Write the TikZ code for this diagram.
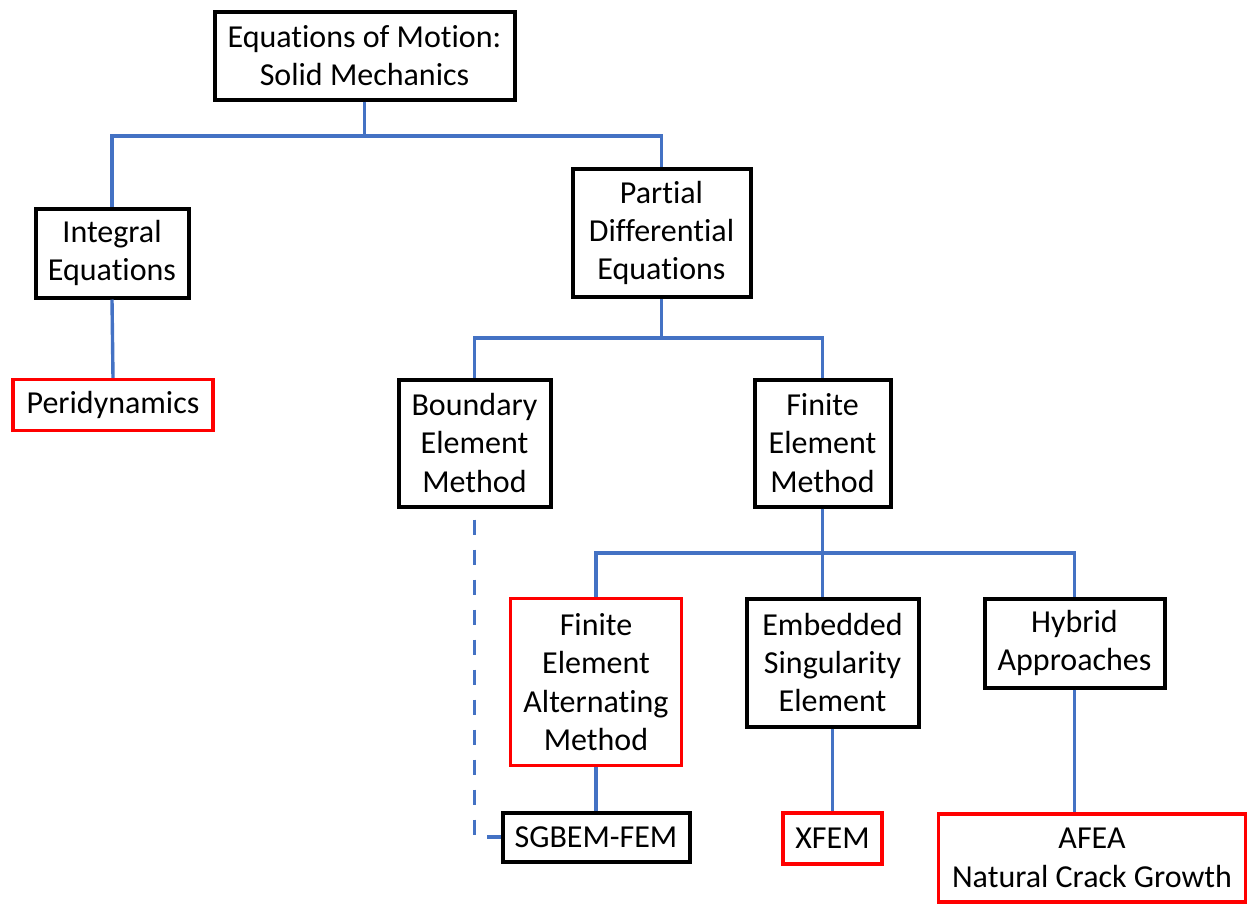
\documentclass[tikz,border=0pt]{standalone}
\usepackage{fontspec}
\setmainfont{Carlito}[Ligatures=NoCommon]
\usepackage{xcolor}
\usepackage{tikz}
\usetikzlibrary{positioning,calc}
\definecolor{linkblue}{HTML}{4472C4}

\begin{document}
\begin{tikzpicture}[x=0.5pt,y=-0.5pt,
        boxsize/.style 2 args={minimum width=#1*0.5pt,minimum height=#2*0.5pt},
        box/.style={draw=black,line width=2pt,align=center,inner sep=0pt,font=\fontsize{16}{19.2}\selectfont},
        redbox/.style={box,draw=red,line width=1.7pt},
        link/.style={draw=linkblue,line width=1.7pt},
        dashlink/.style={link,dash pattern=on 7.5pt off 7.5pt,dash phase=9.5pt}]
        \useasboundingbox (0,0) rectangle (1249,905);
        % boxes
        \node[box,boxsize={300}{88}] (eom) at (364.5,55.5) {Equations of Motion:\\Solid Mechanics};
        \node[box,boxsize={153}{89}] (inteq) at (112,253) {Integral\\Equations};
        \node[box,boxsize={178}{128}] (pde) at (661.5,233) {Partial\\Differential\\Equations};
        \node[redbox,boxsize={200}{51}] (peri) at (113,405) {Peridynamics};
        \node[box,boxsize={152}{127}] (bem) at (474.5,443) {Boundary\\Element\\Method};
        \node[box,boxsize={136}{127}] (fem) at (822.5,443) {Finite\\Element\\Method};
        \node[redbox,boxsize={171}{167}] (feam) at (596,682) {Finite\\Element\\Alternating\\Method};
        \node[box,boxsize={172}{128}] (ese) at (832.5,662.5) {Embedded\\Singularity\\Element};
        \node[box,boxsize={180}{89}] (hybrid) at (1074.5,643) {Hybrid\\Approaches};
        \node[box,boxsize={187}{49}] (sgbem) at (596,837) {SGBEM-FEM};
        \node[redbox,boxsize={99}{51}] (xfem) at (832.5,838.5) {XFEM};
        \node[redbox,boxsize={307}{88}] (afea) at (1092,858) {AFEA\\Natural Crack Growth};
        % connectors
        \draw[link] (eom.south) -- (eom.south |- 0,136) -| (inteq.north);
        \draw[link] (eom.south |- 0,136) -| (pde.north);
        \draw[link] (inteq.south) -- (peri.north);
        \draw[link] (pde.south) -- (pde.south |- 0,338) -| (bem.north);
        \draw[link] (pde.south |- 0,338) -| (fem.north);
        \draw[dashlink] (bem.south) |- (sgbem.west);
        \draw[link] (fem.south) -- (fem.south |- 0,553) -| (feam.north);
        \draw[link] (fem.south |- 0,553) -| (hybrid.north);
        \draw[link] (fem.south) -- (fem.south |- ese.north);
        \draw[link] (feam.south) -- (sgbem.north);
        \draw[link] (ese.south) -- (xfem.north);
        \draw[link] (hybrid.south) -- (hybrid.south |- afea.north);
    \end{tikzpicture}
\end{document}
